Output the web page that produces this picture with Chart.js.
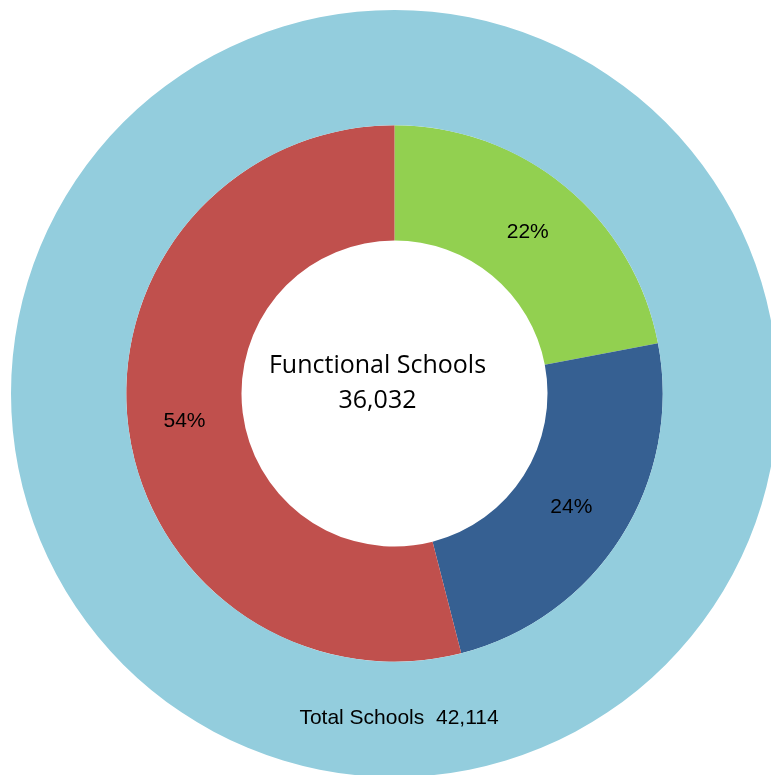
<!DOCTYPE html>
<html>
<head>
<meta charset="utf-8">
<script src="https://cdn.jsdelivr.net/npm/chart.js@4/dist/chart.umd.min.js"></script>
<style>
  html, body { margin: 0; padding: 0; background: #ffffff; overflow: hidden; }
  #wrap { position: relative; width: 771px; height: 775px; overflow: hidden; }
  #chart { position: absolute; left: 0; top: 0; }
</style>
</head>
<body>
<div id="wrap"><canvas id="chart" width="789" height="787"></canvas></div>
<script>
// Functional schools split into three groups (share of 36,032)
const categories = ['Group A', 'Group B', 'Group C'];
const sharePercent = [22, 24, 54];
const functionalSchools = 36032;
const totalSchools = 42114;

const fmt = n => n.toLocaleString('en-US');

// Draws the percentage labels, the total label and the centre caption
const ringLabels = {
  id: 'ringLabels',
  afterDatasetsDraw(chart) {
    const ctx = chart.ctx;
    ctx.save();
    ctx.fillStyle = '#000000';
    ctx.textAlign = 'center';
    ctx.textBaseline = 'alphabetic';

    const outer = chart.getDatasetMeta(0).data[0];
    const cx = outer.x, cy = outer.y;

    // outer ring caption, placed on the ring at the bottom
    const op = outer.tooltipPosition();
    ctx.font = '21px "Liberation Sans", Arial, sans-serif';
    ctx.fillText('Total Schools  ' + fmt(totalSchools), op.x + 4.5, op.y + 4.5);

    // inner ring percentages at each slice centroid
    ctx.font = '21px "Liberation Sans", Arial, sans-serif';
    chart.getDatasetMeta(1).data.forEach((arc, i) => {
      const p = arc.tooltipPosition();
      ctx.fillText(sharePercent[i] + '%', p.x - 1, p.y + 7);
    });

    // centre caption
    ctx.font = '25px "Open Sans", "Liberation Sans", sans-serif';
    ctx.fillText('Functional Schools', cx - 17, cy - 20.5);
    ctx.fillText(fmt(functionalSchools), cx - 17, cy + 14.5);
    ctx.restore();
  }
};

new Chart(document.getElementById('chart'), {
  type: 'doughnut',
  data: {
    labels: categories,
    datasets: [
      {
        label: 'Total Schools',
        data: [totalSchools],
        backgroundColor: ['#93CDDD'],
        borderWidth: 0
      },
      {
        label: 'Functional Schools',
        data: sharePercent,
        backgroundColor: ['#92D050', '#366092', '#C0504D'],
        borderWidth: 0
      }
    ]
  },
  options: {
    responsive: false,
    animation: false,
    cutout: '39.9%',
    layout: { padding: { left: 11, right: 11, top: 10, bottom: 10 } },
    plugins: {
      legend: { display: false },
      tooltip: { enabled: false }
    }
  },
  plugins: [ringLabels]
});
</script>
</body>
</html>
